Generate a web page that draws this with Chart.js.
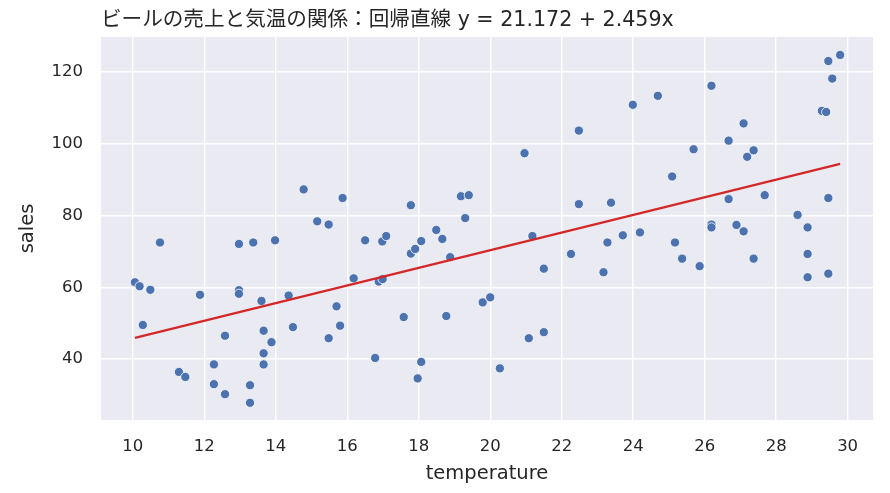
<!DOCTYPE html>
<html>
<head>
<meta charset="utf-8">
<script src="https://cdn.jsdelivr.net/npm/chart.js@4.4.1/dist/chart.umd.min.js"></script>
<style>
  html, body { margin: 0; padding: 0; background: #ffffff; }
  #wrap { width: 890px; height: 493px; position: relative; }
</style>
</head>
<body>
<div id="wrap"><canvas id="beerChart"></canvas></div>
<script>
// Values
const temperature = [
  10.06, 10.19, 10.49, 10.28, 10.76, 11.29, 11.47, 11.88, 12.27, 12.27,
  12.58, 12.58, 12.97, 12.97, 12.97, 13.28, 13.28, 13.37, 13.60, 13.66,
  13.66, 13.66, 13.88, 13.98, 14.36, 14.48, 14.78, 15.16, 15.48, 15.48,
  15.70, 15.80, 15.87, 16.18, 16.50, 16.78, 16.88, 16.98, 16.99, 17.09,
  17.58, 17.78, 17.78, 17.90, 17.97, 18.07, 18.07, 18.49, 18.66, 18.77,
  18.88, 19.18, 19.40, 19.30, 19.79, 20.00, 20.27, 20.96, 21.08, 21.18,
  21.50, 21.50, 22.26, 22.48, 22.48, 23.17, 23.28, 23.38, 23.71, 23.99,
  24.19, 24.69, 25.09, 25.17, 25.37, 25.69, 25.86, 26.19, 26.19, 26.19,
  26.67, 26.67, 26.89, 27.09, 27.09, 27.19, 27.37, 27.37, 27.68, 28.60,
  28.88, 28.88, 28.88, 29.28, 29.40, 29.46, 29.46, 29.46, 29.57, 29.79
];
const sales = [
  61.4, 60.3, 59.3, 49.5, 72.5, 36.4, 35.0, 57.9, 38.5, 33.0,
  46.5, 30.2, 72.1, 59.2, 58.2, 32.7, 27.8, 72.5, 56.2, 47.9,
  41.6, 38.5, 44.7, 73.1, 57.7, 48.9, 87.3, 78.4, 77.5, 45.8,
  54.7, 49.3, 84.9, 62.5, 73.1, 40.3, 61.6, 72.8, 62.3, 74.3,
  51.7, 82.9, 69.4, 70.7, 34.6, 72.9, 39.2, 76.0, 73.5, 52.0,
  68.4, 85.4, 85.7, 79.3, 55.8, 57.2, 37.4, 97.4, 45.8, 74.3,
  65.2, 47.5, 69.3, 103.7, 83.2, 64.2, 72.5, 83.6, 74.5, 110.9,
  75.3, 113.4, 90.9, 72.5, 68.0, 98.5, 65.9, 116.2, 77.5, 76.7,
  100.9, 84.6, 77.4, 105.7, 75.6, 96.4, 98.2, 68.0, 85.7, 80.2,
  76.7, 69.3, 62.8, 109.2, 108.9, 123.1, 84.9, 63.8, 118.2, 124.8
];

// Regression coefficients from the title
const intercept = 21.172;
const slope = 2.459;

const xTicks = [10, 12, 14, 16, 18, 20, 22, 24, 26, 28, 30];
const yTicks = [40, 60, 80, 100, 120];

const titleText = "ビールの売上と気温の関係：回帰直線 y = " + intercept.toFixed(3) + " + " + slope.toFixed(3) + "x";

const scatterPoints = temperature.map((t, i) => ({ x: t, y: sales[i] }));
const xMin = Math.min(...temperature);
const xMax = Math.max(...temperature);
const fitPoints = [xMin, xMax].map(t => ({ x: t, y: intercept + slope * t }));

const textColor = "#262626";
const uiFont = "'DejaVu Sans', 'Noto Sans CJK JP', sans-serif";

// Grey plot background and the left-aligned title
const plotBackground = {
  id: "plotBackground",
  beforeDraw(chart) {
    const { ctx, chartArea } = chart;
    ctx.save();
    ctx.fillStyle = "#eaeaf2";
    ctx.fillRect(chartArea.left, chartArea.top, chartArea.right - chartArea.left, chartArea.bottom - chartArea.top);
    ctx.restore();
  },
  afterDraw(chart) {
    const { ctx, chartArea } = chart;
    ctx.save();
    ctx.fillStyle = textColor;
    ctx.font = "20.6px " + uiFont;
    ctx.textAlign = "left";
    ctx.textBaseline = "alphabetic";
    ctx.fillText(titleText, chartArea.left, 26);
    ctx.restore();
  }
};

const ctx = document.getElementById("beerChart").getContext("2d");
new Chart(ctx, {
  type: "scatter",
  data: {
    datasets: [
      {
        label: "sales",
        data: scatterPoints,
        backgroundColor: "#4c72b0",
        borderColor: "#ffffff",
        borderWidth: 0.8,
        pointRadius: 4.6,
        order: 2
      },
      {
        type: "line",
        label: "fit",
        data: fitPoints,
        borderColor: "#d62728",
        borderWidth: 2.2,
        pointRadius: 0,
        fill: false,
        order: 1
      }
    ]
  },
  options: {
    responsive: true,
    maintainAspectRatio: false,
    animation: false,
    layout: { padding: { top: 37, right: 17, bottom: 0, left: 0 } },
    plugins: {
      legend: { display: false },
      tooltip: { enabled: false },
      title: { display: false }
    },
    scales: {
      x: {
        type: "linear",
        min: 9.11,
        max: 30.71,
        afterFit: scale => { scale.height = 73; },
        afterBuildTicks: scale => { scale.ticks = xTicks.map(v => ({ value: v })); },
        grid: { color: "#ffffff", lineWidth: 1.4, drawTicks: false },
        border: { display: false },
        ticks: { color: textColor, padding: 17, font: { size: 16.5, family: uiFont } },
        title: { display: true, text: "temperature", color: textColor, padding: { bottom: 7 }, font: { size: 19.5, family: uiFont } }
      },
      y: {
        type: "linear",
        min: 23.0,
        max: 129.8,
        afterFit: scale => { scale.width = 101; },
        afterBuildTicks: scale => { scale.ticks = yTicks.map(v => ({ value: v })); },
        grid: { color: "#ffffff", lineWidth: 1.4, drawTicks: false },
        border: { display: false },
        ticks: { color: textColor, padding: 18, font: { size: 16.5, family: uiFont } },
        title: { display: true, text: "sales", color: textColor, padding: { top: 16 }, font: { size: 19.5, family: uiFont } }
      }
    }
  },
  plugins: [plotBackground]
});
</script>
</body>
</html>
